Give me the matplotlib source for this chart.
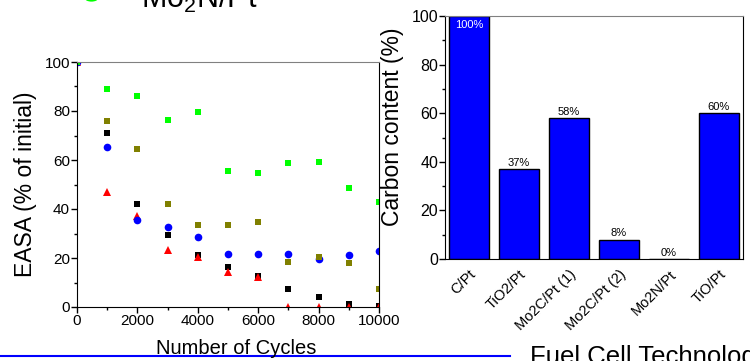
import matplotlib.pyplot as plt
from matplotlib.patches import Rectangle, Circle
from matplotlib.lines import Line2D
from matplotlib.ticker import MultipleLocator

plt.rcParams['font.family'] = ['Liberation Sans', 'DejaVu Sans']
plt.rcParams['mathtext.fontset'] = 'custom'
plt.rcParams['mathtext.rm'] = 'Liberation Sans'

# EASA retention vs. potential cycling
cycles = [0, 1000, 2000, 3000, 4000, 5000, 6000, 7000, 8000, 9000, 10000]
easa_black = [100, 70.9, 41.9, 29.3, 21.2, 16.3, 12.8, 7.2, 4.2, 1.3, 0.4]
easa_red = [100, 46.9, 37.1, 23.3, 20.3, 14.4, 12.4, 0, 0, 0, 0]
easa_blue = [100, 65.2, 35.5, 32.8, 28.4, 21.5, 21.8, 21.8, 19.6, 21.2, 22.7]
easa_olive = [100, 75.9, 64.6, 41.9, 33.5, 33.3, 34.6, 18.4, 20.5, 18.0, 7.3]
easa_green = [100, 89.1, 86.1, 76.5, 79.6, 55.4, 54.8, 58.6, 59.2, 48.6, 42.7]

# carbon content after cycling
supports = ['C/Pt', 'TiO2/Pt', 'Mo2C/Pt (1)', 'Mo2C/Pt (2)', 'Mo2N/Pt', 'TiO/Pt']
carbon = [100, 37, 58, 8, 0, 60]

W, H = 750, 361
fig = plt.figure(figsize=(7.5, 3.61), dpi=100)


def fx(px):
    return px / W


def fy(py):
    return (H - py) / H


# left panel
ax = fig.add_axes([fx(77), fy(307), fx(379) - fx(77), fy(62) - fy(307)])
ax.set_zorder(0)
ax.plot(cycles, easa_black, 's', color='black', ms=4.5, mew=0)
ax.plot(cycles, easa_red, '^', color='#ff0000', ms=6, mew=0)
ax.plot(cycles, easa_blue, 'o', color='#0000ff', ms=5.5, mew=0)
ax.plot(cycles, easa_olive, 's', color='#808000', ms=4.5, mew=0)
ax.plot(cycles, easa_green, 's', color='#00ff00', ms=4.5, mew=0)
ax.set_xlim(0, 10000)
ax.set_ylim(0, 100)
ax.xaxis.set_major_locator(MultipleLocator(2000))
ax.xaxis.set_minor_locator(MultipleLocator(1000))
ax.yaxis.set_major_locator(MultipleLocator(20))
ax.yaxis.set_minor_locator(MultipleLocator(10))
ax.tick_params(which='major', direction='out', length=4, width=1, labelsize=11, pad=1)
ax.tick_params(which='minor', direction='out', length=2.5, width=1)
ax.spines['top'].set_color('#808080')
for s in ['left', 'bottom', 'right']:
    ax.spines[s].set_color('black')

fig.text(fx(236), fy(349), 'Number of Cycles', ha='center', va='center', fontsize=14.5)
fig.text(fx(26), fy(184), 'EASA (% of initial)', ha='center', va='center',
         rotation=90, fontsize=16.5)

# white backing of the right panel
fig.patches.append(Rectangle((fx(381), fy(312)), 1 - fx(381), 1 - fy(312),
                             transform=fig.transFigure, facecolor='white',
                             edgecolor='none', zorder=1))

# right panel
ax2 = fig.add_axes([fx(445), fy(259), fx(743) - fx(445), fy(16) - fy(259)])
ax2.set_zorder(2)
pos = list(range(len(supports)))
ax2.bar(pos, carbon, width=0.8, color='#0000ff', edgecolor='black', linewidth=1)
ax2.set_xlim(-0.48, 5.48)
ax2.set_ylim(0, 100)
ax2.set_xticks(pos)
ax2.set_xticklabels(supports, rotation=45, ha='right', va='top',
                    rotation_mode='anchor', fontsize=10.5)
ax2.tick_params(axis='x', length=0, pad=6)
ax2.yaxis.set_major_locator(MultipleLocator(20))
ax2.yaxis.set_minor_locator(MultipleLocator(10))
ax2.tick_params(axis='y', which='major', direction='out', length=4, width=1,
                labelsize=11.5, pad=1)
ax2.tick_params(axis='y', which='minor', direction='out', length=2.5, width=1)
ax2.spines['top'].set_color('#808080')
for p, v in zip(pos, carbon):
    if v >= 95:
        ax2.annotate(f'{v}%', (p, v), xytext=(0, -3), textcoords='offset points',
                     ha='center', va='top', color='white', fontsize=8)
    else:
        ax2.annotate(f'{v}%', (p, v), xytext=(0, 1), textcoords='offset points',
                     ha='center', va='bottom', color='black', fontsize=8)

fig.text(fx(393), fy(127), 'Carbon content (%)', ha='center', va='center',
         rotation=90, fontsize=16.5)

# slide decorations: legend entry at top, footer rule and title
fig.patches.append(Circle((fx(91.5), fy(-1.5)), 6.5 / W, transform=fig.transFigure,
                          facecolor='#00ff00', edgecolor='none', zorder=3))
fig.text(fx(141), fy(8), r'Mo$_{\mathrm{2}}$N/Pt', ha='left', va='baseline', fontsize=22)
fig.lines.append(Line2D([0, fx(510)], [fy(356), fy(356)], transform=fig.transFigure,
                        color='#0000ff', linewidth=1.5))
fig.text(fx(530), fy(364), 'Fuel Cell Technologies', ha='left', va='baseline', fontsize=18.5)

fig.savefig('out.png', dpi=100)
